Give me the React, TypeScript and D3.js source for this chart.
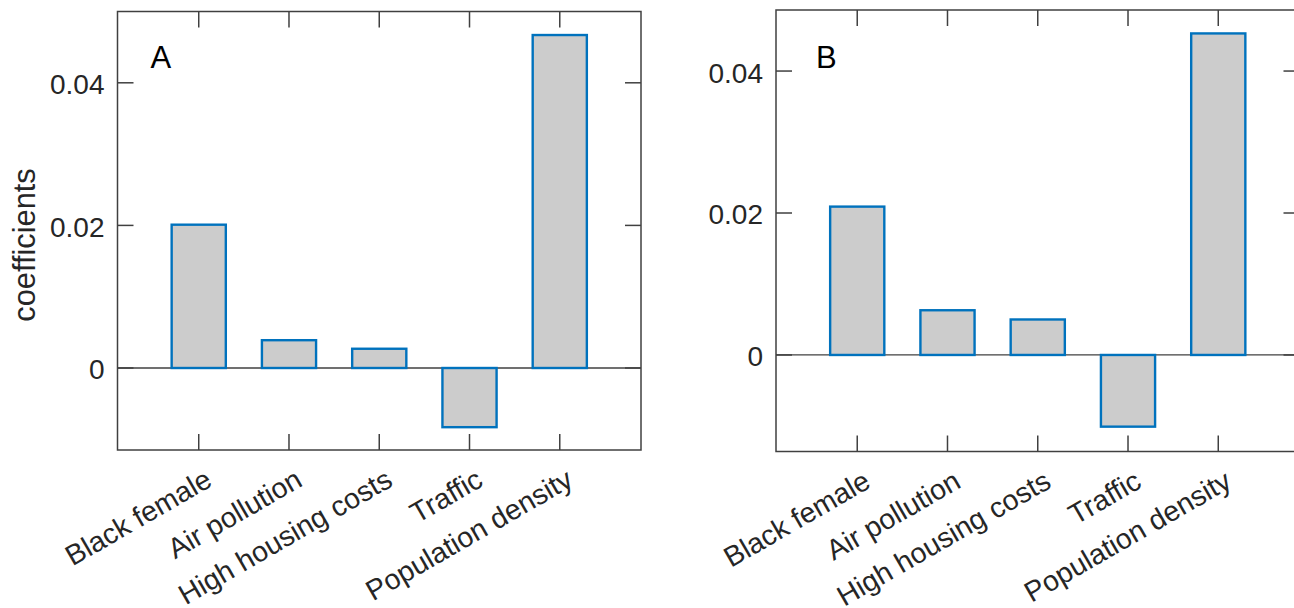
import React, { useRef, useEffect } from 'react';
import * as d3 from 'd3';

const categories = ['Black female', 'Air pollution', 'High housing costs', 'Traffic', 'Population density'];
const valuesA = [0.0201, 0.0039, 0.0027, -0.0083, 0.0467];
const valuesB = [0.0209, 0.0063, 0.0050, -0.0101, 0.0453];
const yTicks = [0, 0.02, 0.04];
const yTickLabels = ['0', '0.02', '0.04'];

interface Panel {
  letter: string;
  values: number[];
  left: number;
  right: number;
  top: number;
  bottom: number;
  yDomain: [number, number];
  letterDx: number;
  ylabel?: string;
}

const panels: Panel[] = [
  { letter: 'A', values: valuesA, left: 117.5, right: 641, top: 11.5, bottom: 450, yDomain: [-0.0115, 0.05], letterDx: 33, ylabel: 'coefficients' },
  { letter: 'B', values: valuesB, left: 776, right: 1299.5, top: 10, bottom: 451.5, yDomain: [-0.0136, 0.0486], letterDx: 40 },
];

const W = 1294;
const H = 608;
const FONT = "'Liberation Sans', Arial, Helvetica, sans-serif";
const textColor = '#262626';
const axisColor = '#404040';
const tickLen = 16;

const App: React.FC = () => {
  const svgRef = useRef<SVGSVGElement>(null);

  useEffect(() => {
    if (!svgRef.current) return;
    const svg = d3.select(svgRef.current);
    svg.selectAll('*').remove();

    panels.forEach(p => {
      const g = svg.append('g');
      const x = d3.scaleLinear().domain([0.1, 5.9]).range([p.left, p.right]);
      const y = d3.scaleLinear().domain(p.yDomain).range([p.bottom, p.top]);
      const xTicks = categories.map((_, i) => i + 1);

      // Baseline at zero
      g.append('line')
        .attr('x1', p.left).attr('x2', p.right)
        .attr('y1', y(0)).attr('y2', y(0))
        .attr('stroke', axisColor)
        .attr('stroke-width', 1.3);

      // Bars
      g.selectAll('.bar')
        .data(p.values)
        .enter().append('rect')
        .attr('x', (_, i) => x(i + 1 - 0.3))
        .attr('width', x(0.6) - x(0))
        .attr('y', d => y(Math.max(d, 0)))
        .attr('height', d => Math.abs(y(d) - y(0)))
        .attr('fill', '#cccccc')
        .attr('stroke', '#0072BD')
        .attr('stroke-width', 2.4);

      // Ticks (inward, on all four sides)
      xTicks.forEach(t => {
        g.append('line').attr('x1', x(t)).attr('x2', x(t)).attr('y1', p.bottom).attr('y2', p.bottom - tickLen)
          .attr('stroke', axisColor).attr('stroke-width', 1.5);
        g.append('line').attr('x1', x(t)).attr('x2', x(t)).attr('y1', p.top).attr('y2', p.top + tickLen)
          .attr('stroke', axisColor).attr('stroke-width', 1.5);
      });
      yTicks.forEach(t => {
        g.append('line').attr('x1', p.left).attr('x2', p.left + tickLen).attr('y1', y(t)).attr('y2', y(t))
          .attr('stroke', axisColor).attr('stroke-width', 1.5);
        g.append('line').attr('x1', p.right).attr('x2', p.right - tickLen).attr('y1', y(t)).attr('y2', y(t))
          .attr('stroke', axisColor).attr('stroke-width', 1.5);
      });

      // Box
      g.append('rect')
        .attr('x', p.left).attr('y', p.top)
        .attr('width', p.right - p.left).attr('height', p.bottom - p.top)
        .attr('fill', 'none')
        .attr('stroke', axisColor)
        .attr('stroke-width', 1.5);

      // Y tick labels
      yTicks.forEach((t, i) => {
        g.append('text')
          .attr('x', p.left - 13)
          .attr('y', y(t))
          .attr('dy', '0.41em')
          .attr('text-anchor', 'end')
          .attr('font-family', FONT)
          .attr('font-size', 28)
          .attr('fill', textColor)
          .text(yTickLabels[i]);
      });

      // X tick labels, rotated
      categories.forEach((c, i) => {
        const tx = x(i + 1) + 15;
        const ty = p.bottom + 35;
        g.append('text')
          .attr('transform', `translate(${tx},${ty}) rotate(-30)`)
          .attr('text-anchor', 'end')
          .attr('font-family', FONT)
          .attr('font-size', 28.5)
          .attr('fill', textColor)
          .text(c);
      });

      // Panel letter
      g.append('text')
        .attr('x', p.left + p.letterDx)
        .attr('y', 67.5)
        .attr('font-family', FONT)
        .attr('font-size', 31)
        .attr('fill', '#000000')
        .text(p.letter);

      if (p.ylabel) {
        g.append('text')
          .attr('transform', `translate(35,245) rotate(-90)`)
          .attr('text-anchor', 'middle')
          .attr('font-family', FONT)
          .attr('font-size', 30.8)
          .attr('fill', textColor)
          .text(p.ylabel);
      }
    });
  }, []);

  return (
    <svg
      ref={svgRef}
      width={W}
      height={H}
      style={{ position: 'absolute', left: 0, top: 0, background: '#ffffff' }}
    />
  );
};

export default App;
